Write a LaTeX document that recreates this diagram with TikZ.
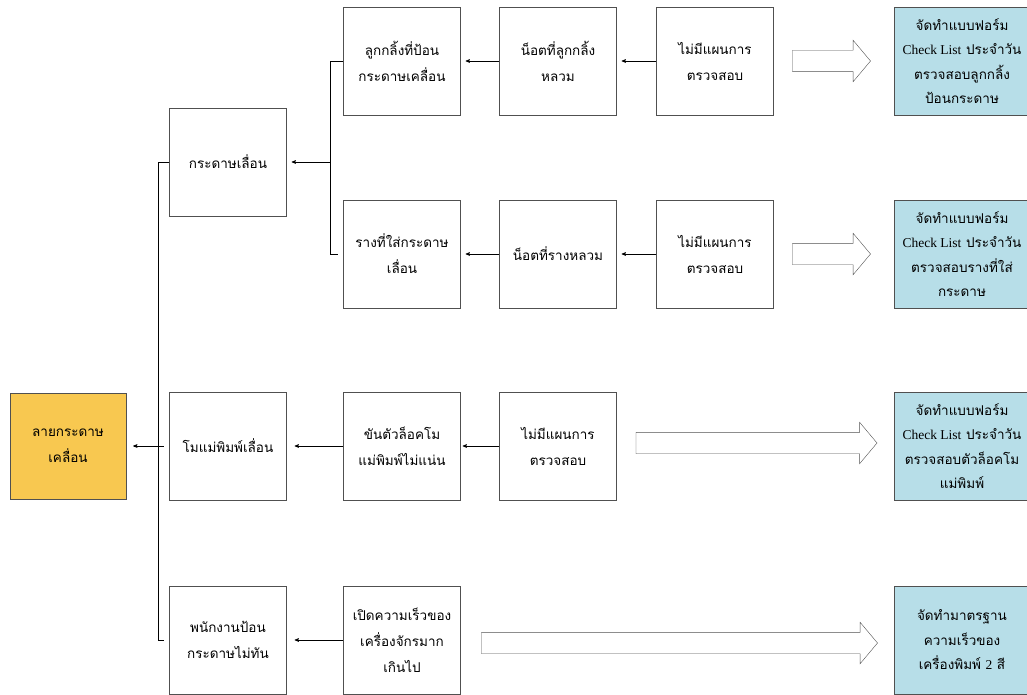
\documentclass[tikz,border=0pt]{standalone}
\usepackage{fontspec}
\setmainfont{Liberation Serif}
\newfontfamily\thaifont[Script=Thai]{Loma}
\usetikzlibrary{arrows,shapes.arrows}
\definecolor{rootyellow}{RGB}{248,200,80}
\definecolor{fixblue}{RGB}{183,222,232}
\definecolor{boxline}{RGB}{80,80,80}

\begin{document}
\begin{tikzpicture}[x=1pt,y=1pt,->,>=stealth',shorten >=5pt,semithick,
    every node/.style={font=\thaifont\fontsize{13.5}{26}\selectfont}]
\tikzstyle{cause}=[draw=boxline,thin,rectangle,align=center,
    minimum width=117pt,minimum height=108pt,inner sep=0pt]
\tikzstyle{fix}=[cause,fill=fixblue,minimum width=136pt,
    font=\thaifont\fontsize{13.5}{24.5}\selectfont]
\tikzstyle{hollow}=[draw=boxline,thin,single arrow,inner xsep=0pt,inner ysep=10.5pt,
    single arrow head extend=10pt,single arrow tip angle=100]
\useasboundingbox (0,0) rectangle (1027,-695);
\clip (0,0) rectangle (1027,-695);

\node[cause,fill=rootyellow,minimum width=116pt,minimum height=106pt]
    (root) at (68,-446) {ลายกระดาษ\\เคลื่อน};
\node[cause] (l1b) [right of=root, node distance=160pt] {โมแม่พิมพ์เลื่อน};
\node[cause] (l1a) [above of=l1b, node distance=284pt] {กระดาษเลื่อน};
\node[cause] (l1c) [below of=l1b, node distance=194pt] {พนักงานป้อน\\กระดาษไม่ทัน};
\node[cause] (l2c) [right of=l1b, node distance=174pt] {ขันตัวล็อคโม\\แม่พิมพ์ไม่แน่น};
\node[cause] (l2d) [right of=l1c, node distance=174pt] {เปิดความเร็วของ\\เครื่องจักรมาก\\เกินไป};
\node[cause] (l2a) [above of=l2c, node distance=385pt] {ลูกกลิ้งที่ป้อน\\กระดาษเคลื่อน};
\node[cause] (l2b) [above of=l2c, node distance=192pt] {รางที่ใส่กระดาษ\\เลื่อน};
\node[cause] (l3a) [right of=l2a, node distance=156pt] {น็อตที่ลูกกลิ้ง\\หลวม};
\node[cause] (l3b) [right of=l2b, node distance=156pt] {น็อตที่รางหลวม};
\node[cause] (l3c) [right of=l2c, node distance=156pt] {ไม่มีแผนการ\\ตรวจสอบ};
\node[cause] (l4a) [right of=l3a, node distance=157pt] {ไม่มีแผนการ\\ตรวจสอบ};
\node[cause] (l4b) [right of=l3b, node distance=157pt] {ไม่มีแผนการ\\ตรวจสอบ};

\node[fix] (fa) [right of=l4a, node distance=247pt]
    {จัดทำแบบฟอร์ม\\{\rmfamily Check List} ประจำวัน\\ตรวจสอบลูกกลิ้ง\\ป้อนกระดาษ};
\node[fix] (fb) [right of=l4b, node distance=247pt]
    {จัดทำแบบฟอร์ม\\{\rmfamily Check List} ประจำวัน\\ตรวจสอบรางที่ใส่\\กระดาษ};
\node[fix] (fc) [right of=l3c, node distance=404pt]
    {จัดทำแบบฟอร์ม\\{\rmfamily Check List} ประจำวัน\\ตรวจสอบตัวล็อคโม\\แม่พิมพ์};
\node[fix] (fd) [right of=l2d, node distance=560pt]
    {จัดทำมาตรฐาน\\ความเร็วของ\\เครื่องพิมพ์ {\rmfamily 2} สี};

% big hollow arrows
\node[hollow,minimum height=78pt] (ha) at (827,-61) {};
\node[hollow,minimum height=78pt] (hb) at (827,-254) {};
\node[hollow,minimum height=241pt] (hc) at (752,-443) {};
\node[hollow,minimum height=396pt] (hd) at (675,-643) {};

% trunk and branch lines
\coordinate (tr) at (158,0);
\coordinate (br) at (330,0);
\draw[-] (l1a.west) -| (tr |- l1c.west) -- (l1c.west);
\draw[-] (tr |- l1b.west) -- (l1b.west);
\draw[shorten >=7pt] (tr |- root.east) -- (root.east);
\draw[-] (l2a.west) -| (br |- l2b.west) -- (l2b.west);
\draw (br |- l1a.east) -- (l1a.east);

\path (l4a) edge (l3a)
      (l3a) edge (l2a)
      (l4b) edge (l3b)
      (l3b) edge (l2b)
      (l3c) edge [shorten >=2pt] (l2c)
      (l2c) edge [shorten >=8pt] (l1b)
      (l2d) edge [shorten >=8pt] (l1c)
;
\end{tikzpicture}
\end{document}
